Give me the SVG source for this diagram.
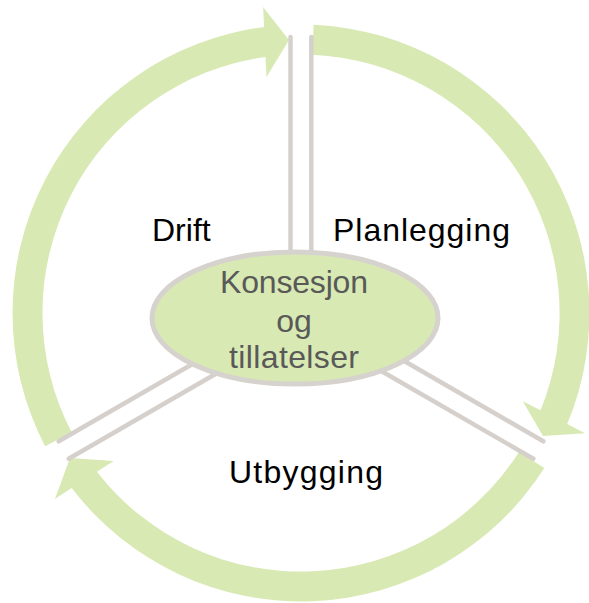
<svg xmlns="http://www.w3.org/2000/svg" width="589" height="603" viewBox="0 0 589 603">
<style>
.arc{fill:#d8e9b3;stroke:none}
.spoke{stroke:#d5d0cc;stroke-width:4.5;stroke-linecap:round;fill:none}
.lbl{font-family:"Liberation Sans",Arial,sans-serif;font-size:32px;fill:#000}
.ctr{font-family:"Liberation Sans",Arial,sans-serif;font-size:32px;fill:#595959;text-anchor:middle}
</style>
<rect width="589" height="603" fill="#fff"/>
<g id="arrows">
<path id="arrow-planlegging" class="arc" d="M313.6,24.8 A288.5,288.5 0 0 1 567.2,424.1 L585,433.2 L543,436 L522.8,401.2 L540.6,410.3 A258.5,258.5 0 0 0 312.3,54.8 Z"/>
<path id="arrow-utbygging" class="arc" d="M544.3,468 A288.5,288.5 0 0 1 71.7,488 L54.9,498.9 L70,458 L113.7,460.9 L96.9,471.8 A258.5,258.5 0 0 0 519,451.9 Z"/>
<path id="arrow-drift" class="arc" d="M45.1,446.2 A288.5,288.5 0 0 1 264.1,26.9 L263.1,7 L289,40 L266.5,76.9 L265.5,56.9 A258.5,258.5 0 0 0 71.7,432.4 Z"/>
</g>
<g id="connectors">
<line class="spoke" x1="290.5" y1="37" x2="290.5" y2="275"/>
<line class="spoke" x1="311.3" y1="37" x2="311.3" y2="275"/>
<line class="spoke" x1="58.7" y1="441.3" x2="209.4" y2="354.3"/>
<line class="spoke" x1="68.7" y1="458.7" x2="219.4" y2="371.7"/>
<line class="spoke" x1="543.3" y1="441.3" x2="383.9" y2="349.3"/>
<line class="spoke" x1="533.3" y1="458.7" x2="373.9" y2="366.7"/>
</g>
<g id="center">
<ellipse cx="295" cy="318" rx="143" ry="66" fill="#d8e9b3" stroke="#d6d2ce" stroke-width="5"/>
<text class="ctr" x="294" y="293" textLength="148" lengthAdjust="spacing">Konsesjon</text>
<text class="ctr" x="294" y="332">og</text>
<text class="ctr" x="294" y="368" textLength="130" lengthAdjust="spacing">tillatelser</text>
</g>
<g id="label-drift"><text class="lbl" x="152" y="241">Drift</text></g>
<g id="label-planlegging"><text class="lbl" x="333" y="241" textLength="177" lengthAdjust="spacing">Planlegging</text></g>
<g id="label-utbygging"><text class="lbl" x="229" y="483" textLength="154" lengthAdjust="spacing">Utbygging</text></g>
</svg>
